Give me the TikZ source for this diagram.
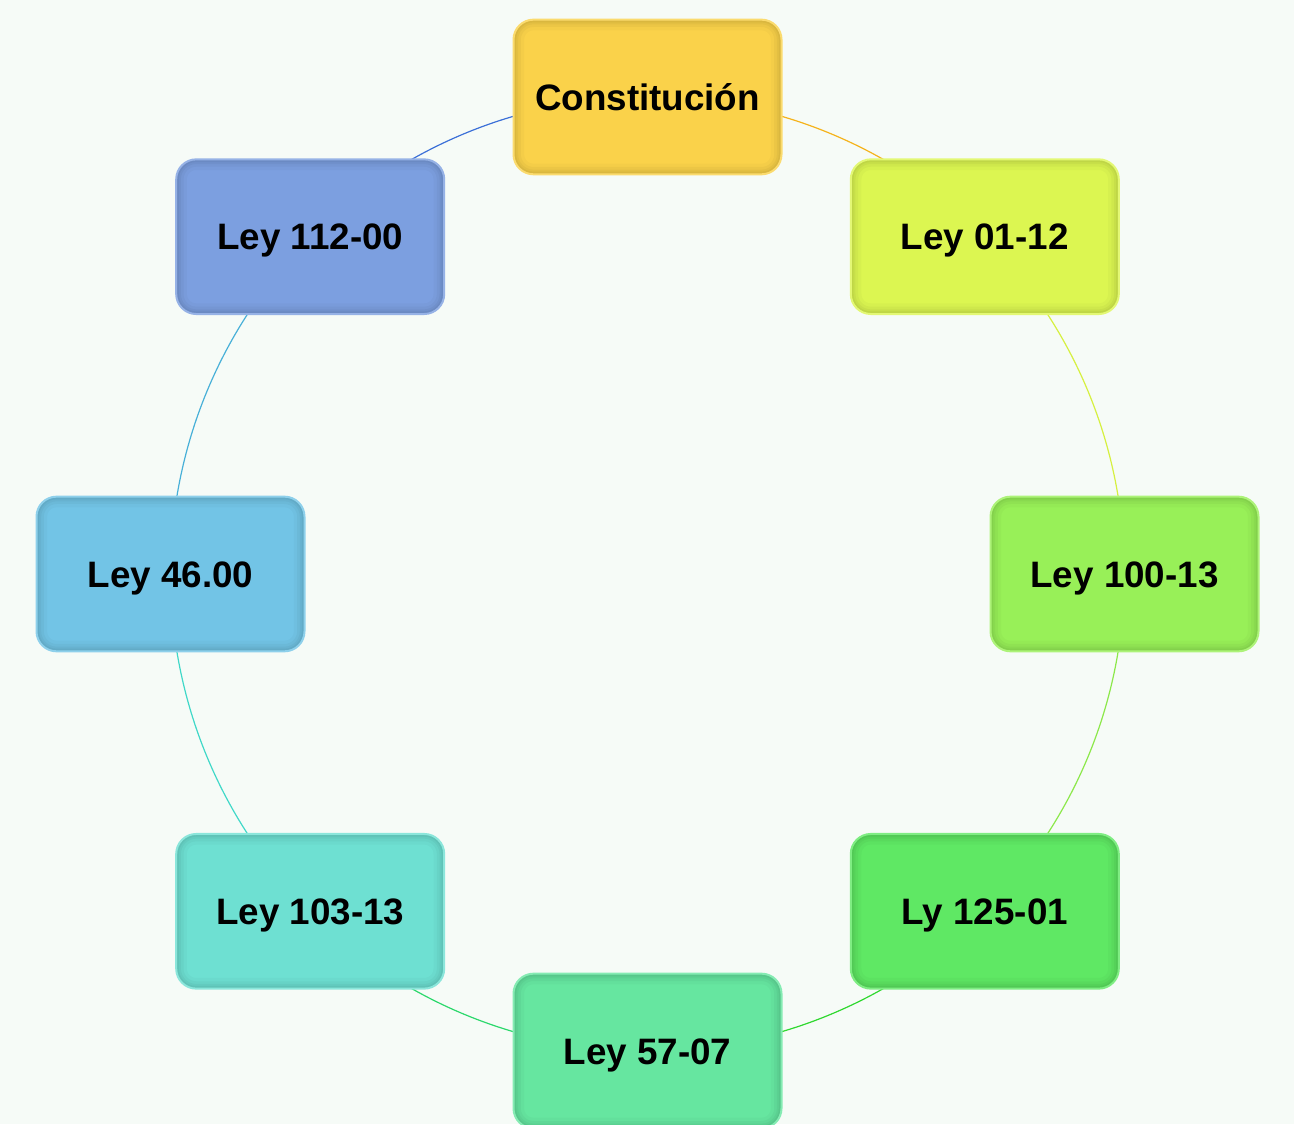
\documentclass[tikz,border=0pt]{standalone}
\usepackage{fontspec}
\setmainfont{Liberation Sans}
\usetikzlibrary{backgrounds}
\definecolor{bg}{HTML}{F6FBF7}
\definecolor{cA}{HTML}{FAD24A}
\definecolor{cB}{HTML}{DCF651}
\definecolor{cC}{HTML}{98F058}
\definecolor{cD}{HTML}{5FE864}
\definecolor{cE}{HTML}{66E6A0}
\definecolor{cF}{HTML}{6EE0D2}
\definecolor{cG}{HTML}{72C4E6}
\definecolor{cH}{HTML}{7C9FE0}
\definecolor{lA}{HTML}{F5B31C}
\definecolor{lB}{HTML}{D6F040}
\definecolor{lC}{HTML}{8CE84A}
\definecolor{lD}{HTML}{30D830}
\definecolor{lE}{HTML}{2CD86C}
\definecolor{lF}{HTML}{40D8C8}
\definecolor{lG}{HTML}{48B0D8}
\definecolor{lH}{HTML}{3C70D8}
\tikzset{
  law/.style={rectangle, rounded corners=15pt, minimum width=201pt, minimum height=116pt,
    fill=#1, draw=#1!80!white, line width=1.5pt,
    text height=19.8pt, text depth=0pt,
    font=\fontsize{27.6}{33}\selectfont\bfseries, text=black,
    path picture={
      \foreach \w/\o in {16pt/0.025,11pt/0.03,7pt/0.035,4pt/0.04}{
        \draw[black, opacity=\o, line width=\w, rounded corners=15pt]
          (path picture bounding box.south west) rectangle (path picture bounding box.north east);}
    }},
  link/.style={draw=#1, line width=0.9pt, looseness=0.885}
}
\begin{document}
\begin{tikzpicture}[x=0.75pt,y=0.75pt]
\useasboundingbox (0,0) rectangle (1294,1124);
\node[law=cA] (const) at (647.5,1027) {Constitución};
\node[law=cB] (l0112) at (984.8,887.3) {Ley 01-12};
\node[law=cC] (l10013) at (1124.5,550) {Ley 100-13};
\node[law=cD] (l12501) at (984.8,212.7) {Ly 125-01};
\node[law=cE] (l5707) at (647.5,73) {Ley 57-07};
\node[law=cF] (l10313) at (310.2,212.7) {Ley 103-13};
\node[law=cG] (l4600) at (170.5,550) {Ley 46.00};
\node[law=cH] (l11200) at (310.2,887.3) {Ley 112-00};
\begin{pgfonlayer}{background}
\fill[bg] (0,0) rectangle (1294,1124);
\draw[link=lA] (const.center) to[out=0,in=135] (l0112.center);
\draw[link=lB] (l0112.center) to[out=-45,in=90] (l10013.center);
\draw[link=lC] (l10013.center) to[out=-90,in=45] (l12501.center);
\draw[link=lD] (l12501.center) to[out=-135,in=0] (l5707.center);
\draw[link=lE] (l5707.center) to[out=180,in=-45] (l10313.center);
\draw[link=lF] (l10313.center) to[out=135,in=-90] (l4600.center);
\draw[link=lG] (l4600.center) to[out=90,in=-135] (l11200.center);
\draw[link=lH] (l11200.center) to[out=45,in=180] (const.center);
\end{pgfonlayer}
\end{tikzpicture}
\end{document}
